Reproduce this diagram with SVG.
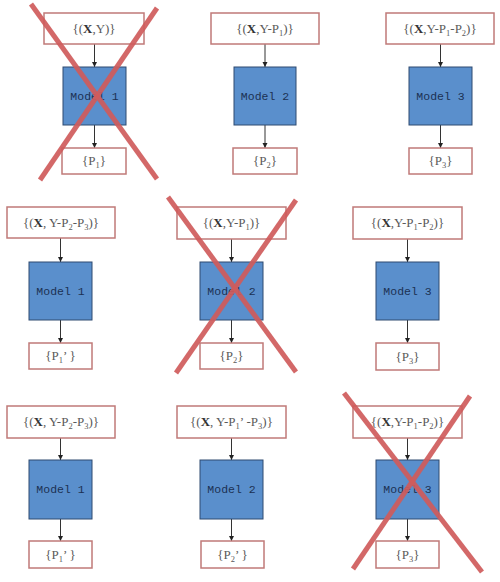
<svg xmlns="http://www.w3.org/2000/svg" width="500" height="582" viewBox="0 0 500 582">
<style>
.io{fill:#fff;stroke:#c07a78;stroke-width:1.5}
.m{fill:#5a8fcc;stroke:#2e4a70;stroke-width:1}
.t{font-family:"Liberation Serif",serif;font-size:13px;fill:#5a5a5a;text-anchor:middle}
.b{font-weight:bold;fill:#333}
.ml{font-family:"Liberation Mono",monospace;font-size:11.5px;fill:#1c3153;text-anchor:middle}
.s{font-size:8.5px}
.c{stroke:#d05c5c;stroke-width:5;stroke-linecap:butt;opacity:0.92}
.a{stroke:#333;stroke-width:1;fill:none;marker-end:url(#ah)}
</style>
<defs>
<marker id="ah" markerWidth="6" markerHeight="6" refX="5" refY="3" orient="auto" markerUnits="userSpaceOnUse">
<path d="M0,0.5 L5,3 L0,5.5 Z" fill="#222"/>
</marker>
</defs>
<rect width="500" height="582" fill="#fff"/>
<g id="connectors">
<line class="a" x1="94.5" y1="44" x2="94.5" y2="67"/>
<line class="a" x1="94.5" y1="125" x2="94.5" y2="148"/>
<line class="a" x1="265" y1="44" x2="265" y2="67"/>
<line class="a" x1="265" y1="125" x2="265" y2="148"/>
<line class="a" x1="440.5" y1="44" x2="440.5" y2="67"/>
<line class="a" x1="440.5" y1="125" x2="440.5" y2="148"/>
<line class="a" x1="60.5" y1="238" x2="60.5" y2="262"/>
<line class="a" x1="60.5" y1="320" x2="60.5" y2="343"/>
<line class="a" x1="231.5" y1="239" x2="231.5" y2="262"/>
<line class="a" x1="231.5" y1="320" x2="231.5" y2="343"/>
<line class="a" x1="407.5" y1="239" x2="407.5" y2="262"/>
<line class="a" x1="407.5" y1="320" x2="407.5" y2="343"/>
<line class="a" x1="60.5" y1="438" x2="60.5" y2="460"/>
<line class="a" x1="60.5" y1="519" x2="60.5" y2="541"/>
<line class="a" x1="231.5" y1="438" x2="231.5" y2="460"/>
<line class="a" x1="231.5" y1="519" x2="231.5" y2="541"/>
<line class="a" x1="407.5" y1="438" x2="407.5" y2="460"/>
<line class="a" x1="407.5" y1="519" x2="407.5" y2="541"/>
</g>
<!-- Row 1 -->
<g id="in1"><rect class="io" x="44" y="13" width="100" height="31"/><text class="t" x="94" y="33">{(<tspan class="b">X</tspan>,Y)}</text></g>
<g id="model1a"><rect class="m" x="63" y="67" width="63" height="58"/><text class="ml" x="94.5" y="100">Model 1</text></g>
<g id="out1"><rect class="io" x="62" y="148" width="64" height="26"/><text class="t" x="94" y="165">{P<tspan class="s" dy="3">1</tspan><tspan dy="-3">}</tspan></text></g>

<g id="in2"><rect class="io" x="211" y="13" width="108" height="31"/><text class="t" x="265" y="33">{(<tspan class="b">X</tspan>,Y-P<tspan class="s" dy="3">1</tspan><tspan dy="-3">)}</tspan></text></g>
<g id="model2a"><rect class="m" x="234" y="67" width="62" height="58"/><text class="ml" x="265" y="100">Model 2</text></g>
<g id="out2"><rect class="io" x="233" y="148" width="64" height="26"/><text class="t" x="265" y="165">{P<tspan class="s" dy="3">2</tspan><tspan dy="-3">}</tspan></text></g>

<g id="in3"><rect class="io" x="386" y="13" width="108" height="31"/><text class="t" x="440" y="33">{(<tspan class="b">X</tspan>,Y-P<tspan class="s" dy="3">1</tspan><tspan dy="-3">-P</tspan><tspan class="s" dy="3">2</tspan><tspan dy="-3">)}</tspan></text></g>
<g id="model3a"><rect class="m" x="409" y="67" width="63" height="58"/><text class="ml" x="440.5" y="100">Model 3</text></g>
<g id="out3"><rect class="io" x="409" y="148" width="63" height="26"/><text class="t" x="440.5" y="165">{P<tspan class="s" dy="3">3</tspan><tspan dy="-3">}</tspan></text></g>

<!-- Row 2 -->
<g id="in4"><rect class="io" x="7" y="207" width="108" height="31"/><text class="t" x="61" y="227">{(<tspan class="b">X</tspan>,  Y-P<tspan class="s" dy="3">2</tspan><tspan dy="-3">-P</tspan><tspan class="s" dy="3">3</tspan><tspan dy="-3">)}</tspan></text></g>
<g id="model1b"><rect class="m" x="29" y="262" width="63" height="58"/><text class="ml" x="60.5" y="295">Model 1</text></g>
<g id="out4"><rect class="io" x="29" y="343" width="63" height="26"/><text class="t" x="60.5" y="360">{P<tspan class="s" dy="3">1</tspan><tspan dy="-3">’ }</tspan></text></g>

<g id="in5"><rect class="io" x="177" y="207" width="109" height="32"/><text class="t" x="231.5" y="227">{(<tspan class="b">X</tspan>,Y-P<tspan class="s" dy="3">1</tspan><tspan dy="-3">)}</tspan></text></g>
<g id="model2b"><rect class="m" x="200" y="262" width="63" height="58"/><text class="ml" x="231.5" y="295">Model 2</text></g>
<g id="out5"><rect class="io" x="200" y="343" width="63" height="26"/><text class="t" x="231.5" y="360">{P<tspan class="s" dy="3">2</tspan><tspan dy="-3">}</tspan></text></g>

<g id="in6"><rect class="io" x="353" y="207" width="109" height="32"/><text class="t" x="407.5" y="227">{(<tspan class="b">X</tspan>,Y-P<tspan class="s" dy="3">1</tspan><tspan dy="-3">-P</tspan><tspan class="s" dy="3">2</tspan><tspan dy="-3">)}</tspan></text></g>
<g id="model3b"><rect class="m" x="376" y="262" width="63" height="58"/><text class="ml" x="407.5" y="295">Model 3</text></g>
<g id="out6"><rect class="io" x="376" y="343" width="63" height="27"/><text class="t" x="407.5" y="361">{P<tspan class="s" dy="3">3</tspan><tspan dy="-3">}</tspan></text></g>

<!-- Row 3 -->
<g id="in7"><rect class="io" x="7" y="406" width="108" height="32"/><text class="t" x="61" y="426">{(<tspan class="b">X</tspan>,  Y-P<tspan class="s" dy="3">2</tspan><tspan dy="-3">-P</tspan><tspan class="s" dy="3">3</tspan><tspan dy="-3">)}</tspan></text></g>
<g id="model1c"><rect class="m" x="29" y="460" width="63" height="59"/><text class="ml" x="60.5" y="493">Model 1</text></g>
<g id="out7"><rect class="io" x="29" y="541" width="63" height="27"/><text class="t" x="60.5" y="559">{P<tspan class="s" dy="3">1</tspan><tspan dy="-3">’ }</tspan></text></g>

<g id="in8"><rect class="io" x="177" y="406" width="109" height="32"/><text class="t" x="231.5" y="426">{(<tspan class="b">X</tspan>,  Y-P<tspan class="s" dy="3">1</tspan><tspan dy="-3">’ -P</tspan><tspan class="s" dy="3">3</tspan><tspan dy="-3">)}</tspan></text></g>
<g id="model2c"><rect class="m" x="200" y="460" width="63" height="59"/><text class="ml" x="231.5" y="493">Model 2</text></g>
<g id="out8"><rect class="io" x="201" y="541" width="63" height="27"/><text class="t" x="232.5" y="559">{P<tspan class="s" dy="3">2</tspan><tspan dy="-3">’ }</tspan></text></g>

<g id="in9"><rect class="io" x="353" y="406" width="109" height="32"/><text class="t" x="407.5" y="426">{(<tspan class="b">X</tspan>,Y-P<tspan class="s" dy="3">1</tspan><tspan dy="-3">-P</tspan><tspan class="s" dy="3">2</tspan><tspan dy="-3">)}</tspan></text></g>
<g id="model3c"><rect class="m" x="376" y="460" width="63" height="59"/><text class="ml" x="407.5" y="493">Model 3</text></g>
<g id="out9"><rect class="io" x="376" y="541" width="63" height="27"/><text class="t" x="407.5" y="559">{P<tspan class="s" dy="3">3</tspan><tspan dy="-3">}</tspan></text></g>

<!-- Crosses -->
<g id="cross1"><line class="c" x1="31" y1="4" x2="157" y2="179"/><line class="c" x1="157" y1="8" x2="40" y2="180"/></g>
<g id="cross2"><line class="c" x1="168" y1="197" x2="296" y2="372"/><line class="c" x1="296" y1="200" x2="176" y2="373"/></g>
<g id="cross3"><line class="c" x1="344" y1="393" x2="482" y2="572"/><line class="c" x1="470" y1="396" x2="353" y2="569"/></g>
</svg>
